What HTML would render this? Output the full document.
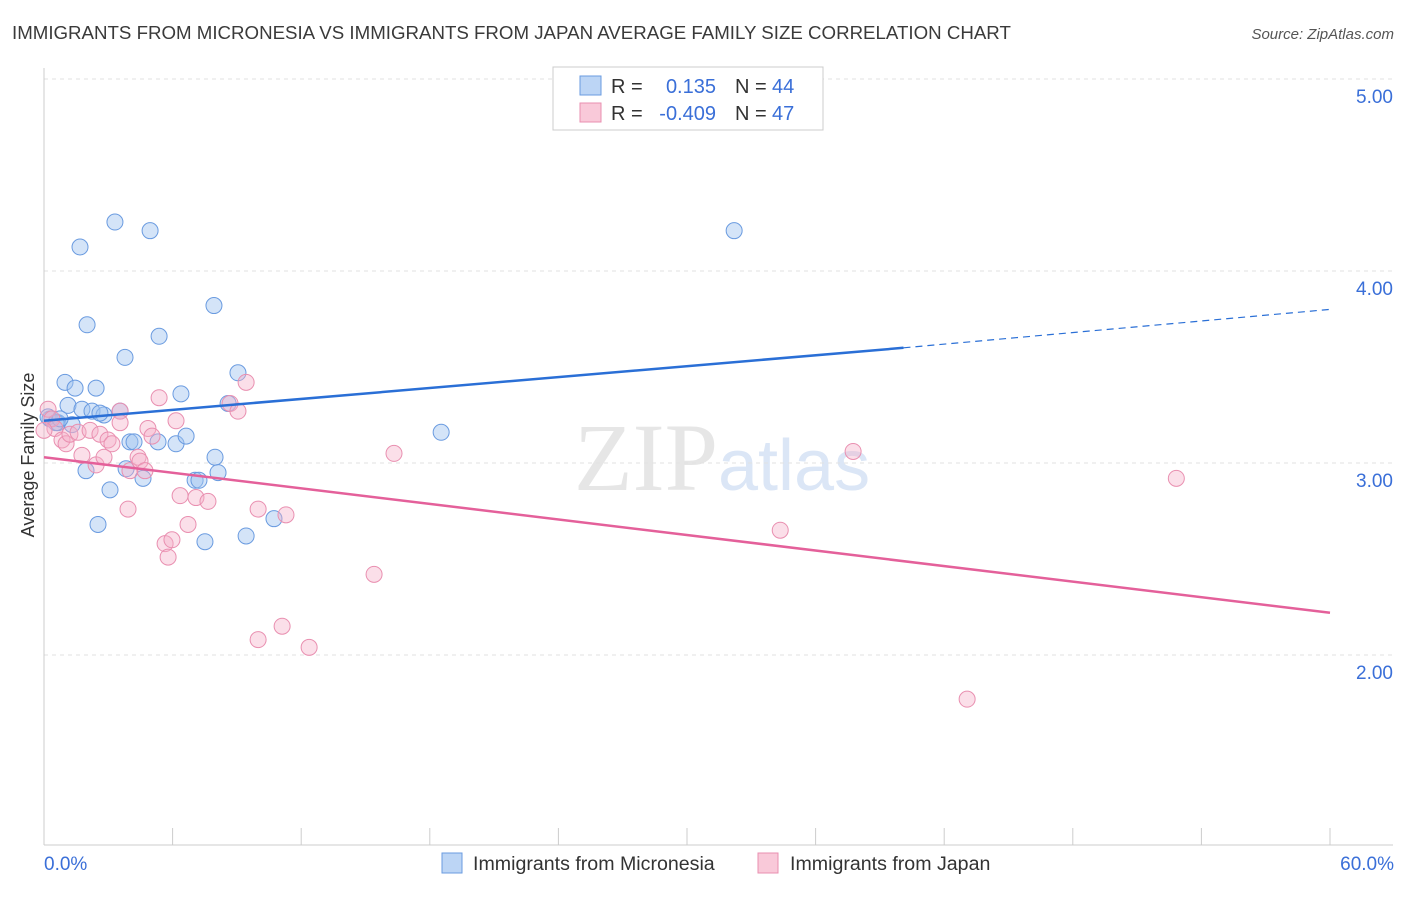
<!DOCTYPE html>
<html><head><meta charset="utf-8"><style>
body{margin:0;background:#fff;font-family:"Liberation Sans",sans-serif}
</style></head><body>
<svg width="1406" height="892" viewBox="0 0 1406 892">
<text x="12" y="39" font-size="18.7" fill="#3a3a3a">IMMIGRANTS FROM MICRONESIA VS IMMIGRANTS FROM JAPAN AVERAGE FAMILY SIZE CORRELATION CHART</text>
<text x="1394" y="39" font-size="15" fill="#555" font-style="italic" text-anchor="end">Source: ZipAtlas.com</text>
<text x="718" y="490" font-size="96" fill="#e6e6e6" text-anchor="end" font-family="Liberation Serif,serif">ZIP</text>
<text x="718" y="490" font-size="72" fill="#dbe6f6">atlas</text>
<g id="grid"></g><g id="axes"></g><g id="marks"></g>
<text x="34" y="455" font-size="18" fill="#333" text-anchor="middle" transform="rotate(-90 34 455)">Average Family Size</text>
<g>
<rect x="553" y="67" width="270" height="63" fill="#fff" stroke="#ccc"/>
<rect x="580" y="76" width="21" height="19" fill="#bcd5f5" stroke="#6a9be0"/>
<rect x="580" y="103" width="21" height="19" fill="#f9c9d9" stroke="#e98fb0"/>
<text x="611" y="93" font-size="20" fill="#333">R = </text><text x="716" y="93" font-size="20" fill="#3a6fd8" text-anchor="end">0.135</text>
<text x="735" y="93" font-size="20" fill="#333">N = </text><text x="772" y="93" font-size="20" fill="#3a6fd8">44</text>
<text x="611" y="120" font-size="20" fill="#333">R = </text><text x="716" y="120" font-size="20" fill="#3a6fd8" text-anchor="end">-0.409</text>
<text x="735" y="120" font-size="20" fill="#333">N = </text><text x="772" y="120" font-size="20" fill="#3a6fd8">47</text>
</g>
<g>
<rect x="442" y="853" width="20" height="20" fill="#bcd5f5" stroke="#6a9be0"/>
<text x="473" y="870" font-size="19.6" fill="#333">Immigrants from Micronesia</text>
<rect x="758" y="853" width="20" height="20" fill="#f9c9d9" stroke="#e98fb0"/>
<text x="790" y="870" font-size="19.6" fill="#333">Immigrants from Japan</text>
</g>
</svg>
<script>
const yTicks=[2,3,4,5];
const yTickLabels=["2.00","3.00","4.00","5.00"];
const xTicks=[0,6,12,18,24,30,36,42,48,54,60];
const blueX=[1.68,3.31,4.95,32.2,2.01,7.93,5.37,3.78,0.98,1.45,2.43,6.39,9.05,8.59,1.12,1.77,2.24,2.80,3.55,0.28,0.65,1.31,0.19,4.01,4.20,5.32,6.16,6.63,18.53,7.98,1.96,3.83,4.62,8.12,7.05,7.23,3.08,2.52,9.43,10.73,7.51,0.56,0.75,2.61];
const blueY=[4.125,4.255,4.21,4.21,3.72,3.82,3.66,3.55,3.42,3.39,3.39,3.36,3.47,3.31,3.30,3.28,3.27,3.25,3.27,3.23,3.21,3.20,3.24,3.11,3.11,3.11,3.10,3.14,3.16,3.03,2.96,2.97,2.92,2.95,2.91,2.91,2.86,2.68,2.62,2.71,2.59,3.21,3.23,3.26];
const pinkX=[0.19,0.37,0.51,0.84,1.03,1.21,1.59,1.77,2.15,2.43,2.61,2.99,3.17,2.80,3.55,3.55,3.92,4.01,4.39,4.48,4.71,4.85,5.04,5.37,5.65,5.79,5.97,6.16,6.35,6.72,7.09,7.65,8.68,9.05,9.43,9.99,9.99,11.11,11.29,12.37,15.40,16.33,34.35,37.75,43.07,52.83,0];
const pinkY=[3.28,3.23,3.18,3.12,3.10,3.15,3.16,3.04,3.17,2.99,3.15,3.12,3.10,3.03,3.27,3.21,2.76,2.96,3.03,3.01,2.96,3.18,3.14,3.34,2.58,2.51,2.60,3.22,2.83,2.68,2.82,2.80,3.31,3.27,3.42,2.76,2.08,2.15,2.73,2.04,2.42,3.05,2.65,3.06,1.77,2.92,3.17];
const blueTrend=[3.22,3.60,3.80];
const blueSolidEnd=40.1;
const pinkTrend=[3.03,2.22];
const sx=v=>44+v/60*1286, sy=v=>79+(5-v)*192;
const NS="http://www.w3.org/2000/svg";
function mk(p,t,a){const e=document.createElementNS(NS,t);for(const k in a)e.setAttribute(k,a[k]);document.getElementById(p).appendChild(e);return e;}
yTicks.forEach((v,i)=>{
 const l=mk('grid','line',{x1:44,x2:1393,y1:sy(v),y2:sy(v),stroke:'#e2e2e2','stroke-dasharray':'4,4'});
 
 
 const t=mk('grid','text',{x:1393,y:sy(v)+24,'font-size':19,fill:'#3a6fd8','text-anchor':'end'});t.textContent=yTickLabels[i];
 
 
});
mk('axes','line',{x1:44,x2:44,y1:68,y2:845,stroke:'#ccc'});
mk('axes','line',{x1:44,x2:1393,y1:845,y2:845,stroke:'#ccc'});
xTicks.forEach(v=>{const l=mk('axes','line',{x1:sx(v),x2:sx(v),y1:828,y2:845,stroke:'#ccc'});
 
 });
let t=mk('axes','text',{x:44,y:870,'font-size':19,fill:'#3a6fd8'});t.textContent='0.0%';


t=mk('axes','text',{x:1394,y:870,'font-size':19,fill:'#3a6fd8','text-anchor':'end'});t.textContent='60.0%';


blueX.forEach((x,i)=>{const c=mk('marks','circle',{cx:sx(x),cy:sy(blueY[i]),r:8,fill:'rgba(160,195,240,0.45)',stroke:'#6a9be0','stroke-width':1});
 
 });
pinkX.forEach((x,i)=>{const c=mk('marks','circle',{cx:sx(x),cy:sy(pinkY[i]),r:8,fill:'rgba(245,175,200,0.4)',stroke:'#e98fb0','stroke-width':1});
 
 });
let l=mk('marks','line',{x1:sx(0),y1:sy(blueTrend[0]),x2:sx(blueSolidEnd),y2:sy(blueTrend[1]),stroke:'#2a6fd6','stroke-width':2.5});


l=mk('marks','line',{x1:sx(blueSolidEnd),y1:sy(blueTrend[1]),x2:sx(60),y2:sy(blueTrend[2]),stroke:'#2a6fd6','stroke-width':1.2,'stroke-dasharray':'7,5'});


l=mk('marks','line',{x1:sx(0),y1:sy(pinkTrend[0]),x2:sx(60),y2:sy(pinkTrend[1]),stroke:'#e4609a','stroke-width':2.5});


</script>
</body></html>
